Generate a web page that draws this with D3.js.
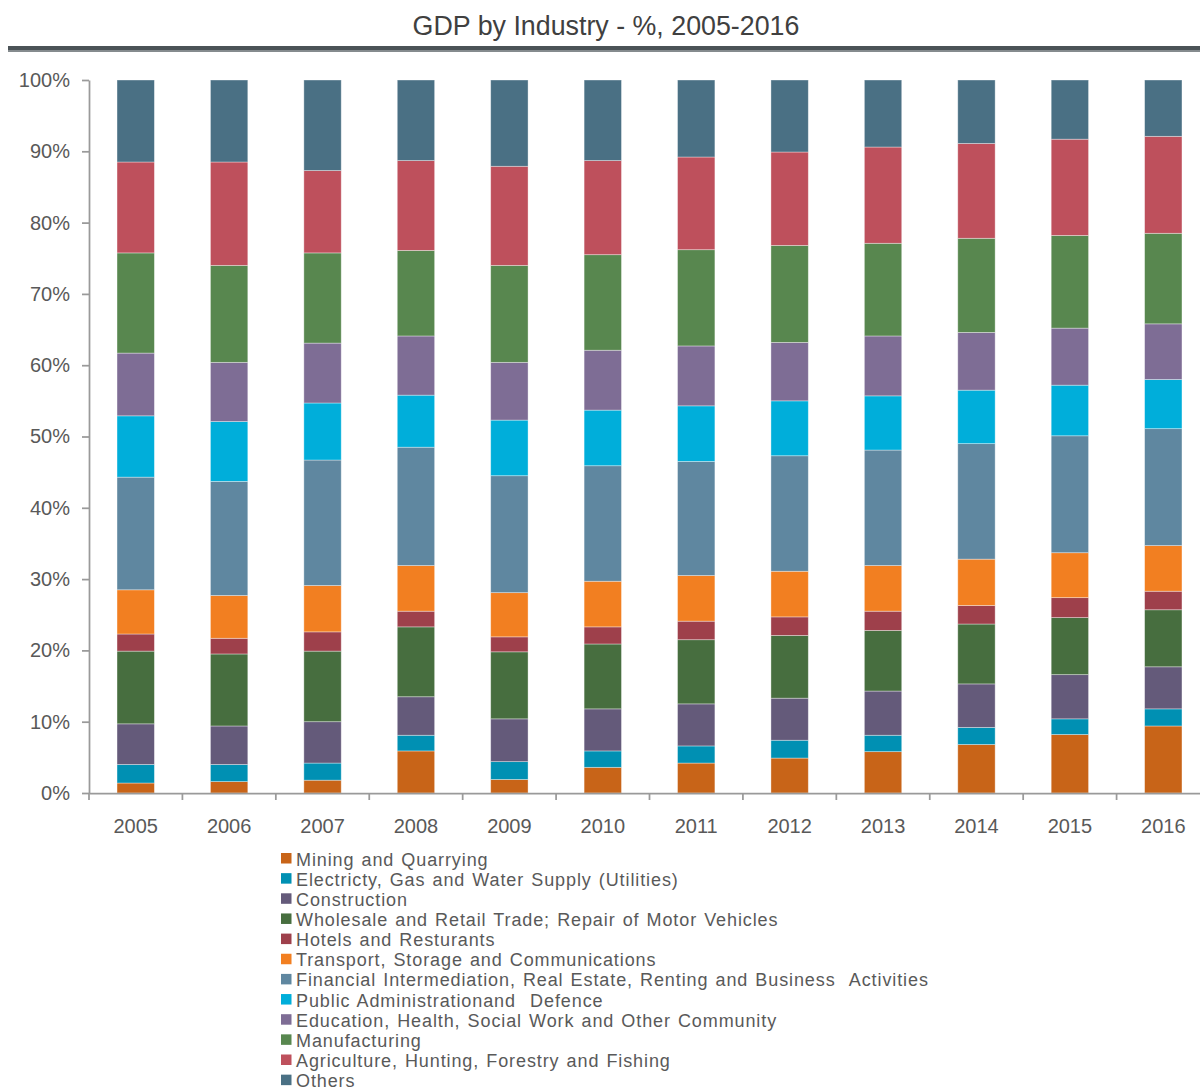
<!DOCTYPE html>
<html>
<head>
<meta charset="utf-8">
<script src="https://cdn.jsdelivr.net/npm/d3@7"></script>
<style>
  html, body { margin: 0; padding: 0; background: #ffffff; }
  svg { display: block; font-family: "Liberation Sans", Arial, sans-serif; }
</style>
</head>
<body>
<svg id="chart" width="1200" height="1090"></svg>
<script>
// ---- data ----
const years = ["2005","2006","2007","2008","2009","2010","2011","2012","2013","2014","2015","2016"];
const seriesNames = [
  "Mining and Quarrying",
  "Electricty, Gas and Water Supply (Utilities)",
  "Construction",
  "Wholesale and Retail Trade; Repair of Motor Vehicles",
  "Hotels and Resturants",
  "Transport, Storage and Communications",
  "Financial Intermediation, Real Estate, Renting and Business  Activities",
  "Public Administrationand  Defence",
  "Education, Health, Social Work and Other Community",
  "Manufacturing",
  "Agriculture, Hunting, Forestry and Fishing",
  "Others"
];
const mining        = [1.4, 1.6, 1.8, 5.9, 1.9, 3.6, 4.2, 4.9, 5.8, 6.8, 8.2, 9.4];
const utilities     = [2.6, 2.4, 2.4, 2.2, 2.5, 2.3, 2.4, 2.5, 2.3, 2.4, 2.2, 2.4];
const construction  = [5.7, 5.4, 5.8, 5.4, 6.0, 5.9, 5.9, 5.9, 6.2, 6.1, 6.2, 5.9];
const wholesale     = [10.2, 10.1, 9.9, 9.8, 9.4, 9.1, 9.0, 8.8, 8.5, 8.4, 8.0, 8.0];
const hotels        = [2.4, 2.2, 2.7, 2.2, 2.1, 2.4, 2.6, 2.6, 2.7, 2.6, 2.8, 2.6];
const transport     = [6.2, 6.0, 6.5, 6.4, 6.2, 6.4, 6.4, 6.4, 6.4, 6.5, 6.3, 6.4];
const financial     = [15.8, 16.0, 17.6, 16.6, 16.4, 16.2, 16.0, 16.2, 16.2, 16.2, 16.4, 16.4];
const publicAdmin   = [8.6, 8.4, 8.0, 7.3, 7.8, 7.8, 7.8, 7.7, 7.6, 7.5, 7.1, 6.9];
const education     = [8.8, 8.3, 8.4, 8.3, 8.1, 8.4, 8.4, 8.2, 8.4, 8.1, 8.0, 7.8];
const manufacturing = [14.05, 13.6, 12.65, 12.0, 13.6, 13.4, 13.5, 13.6, 13.0, 13.2, 13.0, 12.7];
const agriculture   = [12.75, 14.5, 11.55, 12.6, 13.9, 13.2, 13.0, 13.1, 13.5, 13.3, 13.5, 13.6];
const others        = [11.5, 11.5, 12.7, 11.3, 12.1, 11.3, 10.8, 10.1, 9.4, 8.9, 8.3, 7.9];
const seriesValues = [mining, utilities, construction, wholesale, hotels, transport,
                      financial, publicAdmin, education, manufacturing, agriculture, others];
const colors = ["#C86418","#0090B3","#645A7A","#476E3F","#9E404B","#F27F21",
                "#5F87A0","#00AEDA","#7E6D95","#58874F","#BE505C","#4A7084"];
const yTicks = [0,10,20,30,40,50,60,70,80,90,100];
const title = "GDP by Industry - %, 2005-2016";

// ---- build table ----
const keys = seriesNames.map((d, i) => "s" + i);
const table = years.map((yr, j) => {
  const row = { year: yr };
  seriesValues.forEach((arr, i) => row[keys[i]] = arr[j]);
  return row;
});

const svg = d3.select("#chart");
const textColor = "#595959";
const axisColor = "#9a9a9a";

// ---- title ----
svg.append("text")
  .attr("x", 606).attr("y", 34.5)
  .attr("text-anchor", "middle")
  .attr("font-size", 26.8)
  .attr("fill", "#404040")
  .text(title);
svg.append("rect").attr("x", 8).attr("y", 46).attr("width", 1192).attr("height", 4).attr("fill", "#4b5357");
svg.append("rect").attr("x", 8).attr("y", 50).attr("width", 1192).attr("height", 2).attr("fill", "#858b8e");

// ---- scales ----
const x = d3.scaleBand().domain(years).range([89, 1210]).paddingInner(0.6).paddingOuter(0.3);
const y = d3.scaleLinear().domain([0, 100]).range([793, 80]);

// ---- stacked bars ----
const stack = d3.stack().keys(keys);
const stacked = stack(table);

svg.append("g").selectAll("g")
  .data(stacked)
  .join("g")
  .attr("fill", (d, i) => colors[i])
  .selectAll("rect")
  .data(d => d)
  .join("rect")
  .attr("x", d => x(d.data.year))
  .attr("width", x.bandwidth())
  .attr("y", d => y(d[1]))
  .attr("height", d => y(d[0]) - y(d[1]))
  .attr("stroke", "#ffffff")
  .attr("stroke-opacity", 0.45)
  .attr("stroke-width", 0.8);

// ---- y axis ----
const yAxis = svg.append("g")
  .attr("transform", "translate(89,0)")
  .call(d3.axisLeft(y).tickValues(yTicks).tickFormat(d => d + "%").tickSize(7).tickPadding(12).tickSizeOuter(0));
yAxis.select(".domain").attr("stroke", axisColor).attr("stroke-width", 1.75);
yAxis.selectAll(".tick line").attr("stroke", axisColor).attr("stroke-width", 1.75);
yAxis.selectAll(".tick text").attr("font-size", 20).attr("fill", textColor)
  .attr("font-family", "'Liberation Sans', Arial, sans-serif");

// ---- x axis ----
const xAxis = svg.append("g")
  .attr("transform", "translate(0,793)")
  .call(d3.axisBottom(x).tickSize(0).tickPadding(26).tickSizeOuter(0));
xAxis.select(".domain").attr("stroke", axisColor).attr("stroke-width", 1.75);
xAxis.selectAll(".tick text").attr("font-size", 20).attr("fill", textColor)
  .attr("font-family", "'Liberation Sans', Arial, sans-serif");
// boundary ticks between categories
const step = x.step();
const boundaries = years.map(yr => x(yr) - step * x.paddingInner() / 2).concat([x(years[years.length - 1]) + x.bandwidth() + step * x.paddingInner() / 2]);
xAxis.selectAll(".btick")
  .data(boundaries)
  .join("line")
  .attr("class", "btick")
  .attr("x1", d => d).attr("x2", d => d)
  .attr("y1", 0).attr("y2", 7)
  .attr("stroke", axisColor).attr("stroke-width", 1.75);

// ---- legend ----
const legend = svg.append("g").attr("transform", "translate(281,865.5)");
const rowH = 20.15;
const items = legend.selectAll("g")
  .data(seriesNames)
  .join("g")
  .attr("transform", (d, i) => `translate(0,${i * rowH})`);
items.append("rect")
  .attr("x", 0).attr("y", -12.5).attr("width", 10.5).attr("height", 10.5)
  .attr("fill", (d, i) => colors[i]);
items.append("text")
  .attr("x", 15).attr("y", 0)
  .attr("font-size", 18)
  .attr("letter-spacing", 0.9)
  .attr("word-spacing", 1.2)
  .attr("fill", textColor)
  .style("white-space", "pre")
  .text(d => d);
</script>
</body>
</html>
